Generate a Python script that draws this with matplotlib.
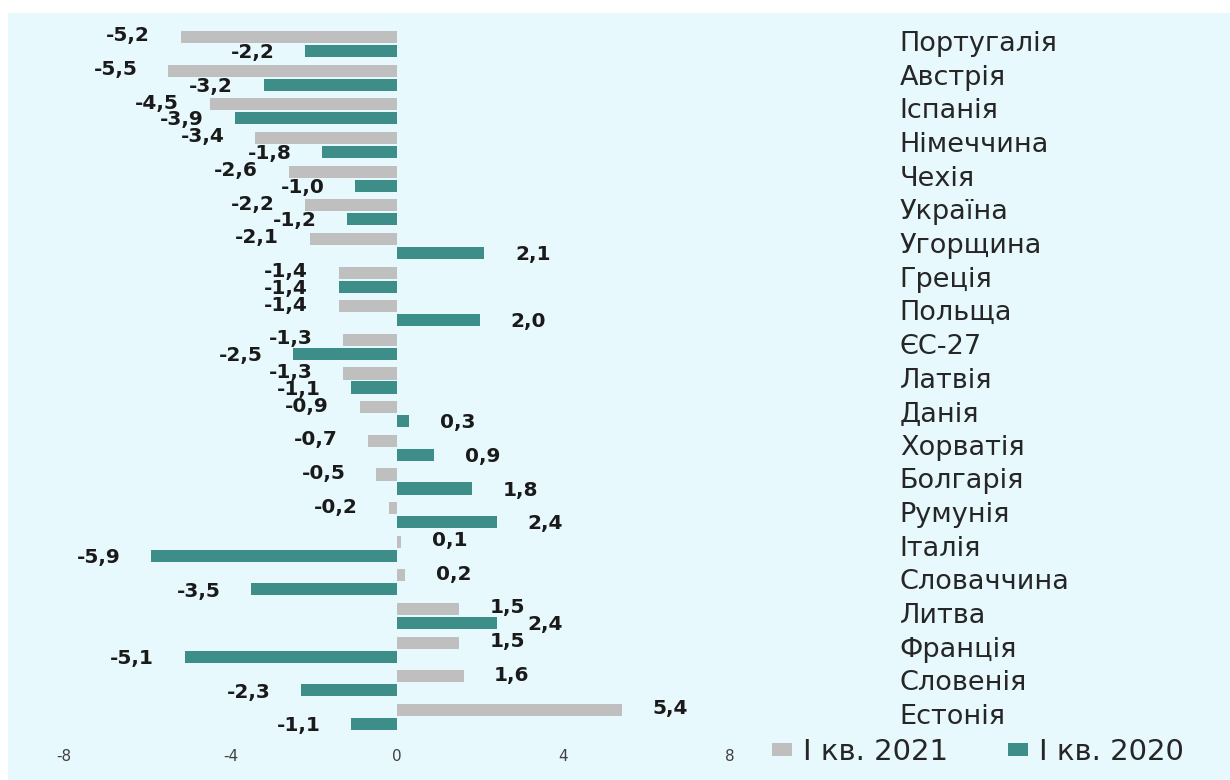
import matplotlib
matplotlib.use("Agg")
import matplotlib.pyplot as plt
from matplotlib.patches import Patch, Rectangle

countries = ["Португалія", "Австрія", "Іспанія", "Німеччина", "Чехія", "Україна",
             "Угорщина", "Греція", "Польща", "ЄС-27", "Латвія", "Данія", "Хорватія",
             "Болгарія", "Румунія", "Італія", "Словаччина", "Литва", "Франція",
             "Словенія", "Естонія"]
q1_2021 = [-5.2, -5.5, -4.5, -3.4, -2.6, -2.2, -2.1, -1.4, -1.4, -1.3, -1.3, -0.9,
           -0.7, -0.5, -0.2, 0.1, 0.2, 1.5, 1.5, 1.6, 5.4]
q1_2020 = [-2.2, -3.2, -3.9, -1.8, -1.0, -1.2, 2.1, -1.4, 2.0, -2.5, -1.1, 0.3,
           0.9, 1.8, 2.4, -5.9, -3.5, 2.4, -5.1, -2.3, -1.1]
series_labels = ["I кв. 2021", "I кв. 2020"]
xticks = [-8, -4, 0, 4, 8]

BG = "#e8f9fd"
GREY = "#bfbfbf"
TEAL = "#3d8d89"

fig = plt.figure(figsize=(12.3, 7.8), dpi=100, facecolor="white")
fig.patches.append(Rectangle((8 / 1230, 0), 1, 1 - 13 / 780, transform=fig.transFigure,
                             facecolor=BG, edgecolor="none", zorder=-10))

ax = fig.add_axes([64 / 1230, 0.0592, 666 / 1230, 0.9059])
ax.set_facecolor("none")

h = 0.36
off = 0.2075
ys = list(range(len(countries)))
ax.barh([y - off for y in ys], q1_2021, height=h, color=GREY)
ax.barh([y + off for y in ys], q1_2020, height=h, color=TEAL)

def fmt(v):
    return f"{v:.1f}".replace(".", ",")

for y, v1, v2 in zip(ys, q1_2021, q1_2020):
    for v, yy, dy in ((v1, y - off, 0.8), (v2, y + off, -1.2)):
        dx = 22 if v >= 0 else -22
        ax.annotate(fmt(v), xy=(v, yy), xytext=(dx, dy), textcoords="offset points",
                    ha="left" if v >= 0 else "right", va="center",
                    fontsize=14.5, fontweight="bold", color="#1a1a1a")
    ax.text(1.255, y, countries[y], transform=ax.get_yaxis_transform(),
            ha="left", va="center", fontsize=19.5, color="#262626")

ax.set_xlim(-8, 8)
ax.set_ylim(20.5, -0.5)
ax.set_xticks(xticks)
ax.set_xticklabels([str(t) for t in xticks], fontsize=11, color="#404040")
ax.tick_params(axis="x", length=0, pad=11)
ax.set_yticks([])
for s in ax.spines.values():
    s.set_visible(False)

handles = [Patch(facecolor=GREY, edgecolor="none"), Patch(facecolor=TEAL, edgecolor="none")]
fig.legend(handles, series_labels, loc="center left", bbox_to_anchor=(772 / 1230, 1 - 752 / 780),
           ncol=2, frameon=False, fontsize=21, handlelength=0.685, handleheight=0.34,
           handletextpad=0.38, columnspacing=2.05, borderpad=0, borderaxespad=0,
           labelcolor="#262626")

fig.savefig("out.png", dpi=100, facecolor="white")
